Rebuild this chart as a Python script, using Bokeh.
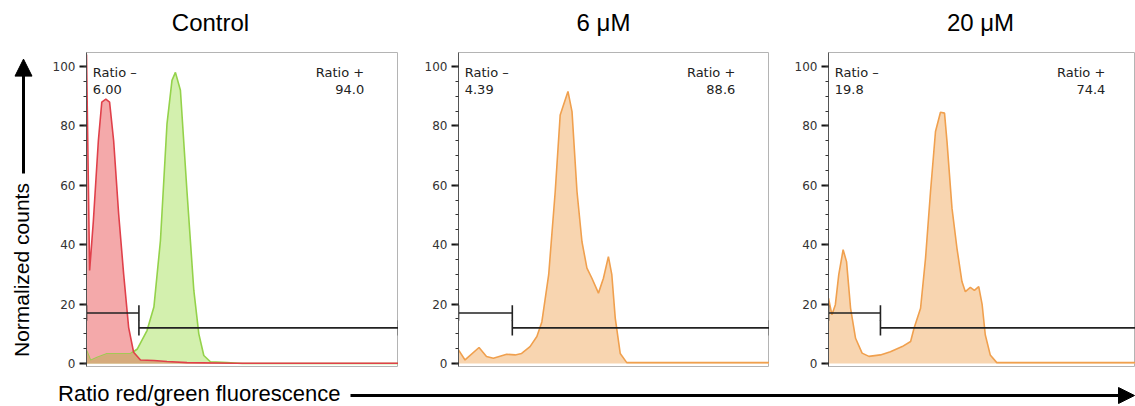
import numpy as np
from bokeh.plotting import figure
from bokeh.layouts import row, column
from bokeh.models import Range1d, SingleIntervalTicker, Arrow, NormalHead
from bokeh.core.properties import value
from bokeh.embed import file_html
from bokeh.resources import INLINE

# ---------------- data ----------------
titles = ["Control", "6 \u03bcM", "20 \u03bcM"]
ratio_neg = ["6.00", "4.39", "19.8"]
ratio_pos = ["94.0", "88.6", "74.4"]
gate_split = [16.8, 17.3, 16.7]
y_ticks_interval = 20

ctrl_red_x = [0, 1.0, 2.2, 3.8, 4.9, 6.2, 7.4, 8.7, 10.3, 11.9, 13.5, 15.1, 17.3, 21.6, 25.8, 32.2, 47.2, 100]
ctrl_red_y = [104, 31.3, 48, 75, 88, 89, 88, 75, 50.4, 30.2, 12.2, 3.8, 1.2, 1.0, 0.7, 0.3, 0.1, 0.1]

ctrl_green_x = [0, 1.3, 3.4, 6.6, 14.1, 16.3, 19.4, 21.6, 23.7, 25.8, 27.4, 28.5, 30.1, 32.2, 34.4, 36.0, 37.6, 39.7, 45, 50, 100]
ctrl_green_y = [4.4, 1.0, 2.0, 3.3, 3.3, 4.9, 11.1, 19, 41.4, 80.7, 95.3, 98, 92, 58, 24.6, 10, 2.7, 0.6, 0.3, 0, 0]

uM6_x = [0, 2.1, 6.6, 9.0, 11.2, 15.5, 18.2, 20.3, 23.0, 25.2, 26.8, 29.0, 31.1, 32.7, 33.6, 35.2, 36.5,
         38.1, 39.7, 41.3, 42.9, 45.0, 46.6, 48.2, 49.3, 50.4, 52.0, 54.1, 100]
uM6_y = [4.6, 1.2, 5.4, 2.4, 1.8, 3.1, 2.9, 3.4, 5.7, 9.1, 14, 29.9, 57.9, 83.7, 86.5, 91.6, 84.8,
         57.9, 41, 32.1, 28.7, 23.7, 28.7, 36, 29.9, 15.3, 3.4, 0.3, 0.3]

uM20_x = [0, 1.1, 2.2, 3.3, 4.7, 5.8, 7.1, 8.7, 10.8, 13.0, 16.7, 19.9, 23.7, 26.4, 27.5, 29.6, 31.2,
          32.8, 34.4, 36.0, 37.3, 38.1, 39.7, 41.3, 42.9, 44.0, 45.6, 46.9, 48.3, 49.4, 50.4, 52.0, 54.1, 100]
uM20_y = [22, 16.4, 19.8, 29.9, 38.3, 34.3, 18.6, 8.5, 3.5, 2.4, 2.9, 4.0, 5.7, 7.4, 11.9, 18.6, 35.5,
          57.9, 78.1, 84.6, 84.3, 74.7, 52.3, 38.8, 27.6, 24.2, 25.6, 24.6, 25.9, 19.8, 9.7, 2.9, 0.3, 0.3]

# ---------------- styles ----------------
RED_FILL, RED_LINE = "#f4a9aa", "#e0404a"
GREEN_FILL, GREEN_LINE = "#d3f0ae", "#94d24a"
OVERLAP_FILL = "#d6ab7c"
ORANGE_FILL, ORANGE_LINE = "#f8d5b0", "#f0a04e"
TXT_FONT = value("DejaVu Sans")
ARIAL = value("Liberation Sans")

Y0, Y1 = -1, 104.7
ROW_H = 332


def make_panel(width, border_left, xmax, idx):
    p = figure(width=width, height=ROW_H, x_range=Range1d(0, xmax), y_range=Range1d(Y0, Y1),
               output_backend="svg", toolbar_location=None, x_axis_location=None,
               min_border_left=border_left, min_border_right=0, min_border_top=8,
               min_border_bottom=10, title=None)
    p.grid.visible = False
    p.outline_line_color = "#b4b4b4"
    p.outline_line_width = 1
    ax = p.yaxis[0]
    ax.ticker = SingleIntervalTicker(interval=y_ticks_interval, num_minor_ticks=4)
    ax.major_tick_out = 7
    ax.major_tick_in = 0
    ax.minor_tick_out = 3
    ax.minor_tick_in = 0
    ax.major_tick_line_width = 2
    ax.major_tick_line_color = "#111111"
    ax.minor_tick_line_color = "#333333"
    ax.minor_tick_line_width = 1.2
    ax.axis_line_color = "#555555"
    ax.major_label_text_font = "DejaVu Sans"
    ax.major_label_text_font_size = "12px"
    ax.major_label_text_color = "#333333"
    ax.major_label_standoff = 4
    p.background_fill_color = "white"
    p.border_fill_color = "white"
    return p


def add_gates(p, idx):
    g = gate_split[idx]
    cap = 2.6
    p.segment(x0=[0, g], y0=[17, 12], x1=[g, 100], y1=[17, 12], line_color="#222222", line_width=1.6)
    p.segment(x0=[0, g, g, 100], y0=[17 - cap, 17 - cap, 12 - cap, 12 - cap],
              x1=[0, g, g, 100], y1=[17 + cap, 17 + cap, 12 + cap, 12 + cap],
              line_color="#222222", line_width=1.6)
    p.text(x=[2, 2], y=[98, 92.3], text=["Ratio \u2013", ratio_neg[idx]], text_font=TXT_FONT,
           text_font_size="13px", text_color="#222222", text_align="left", text_baseline="middle")
    p.text(x=[89, 89], y=[98, 92.3], text=["Ratio +", ratio_pos[idx]], text_font=TXT_FONT,
           text_font_size="13px", text_color="#222222", text_align="right", text_baseline="middle")


# Panel 1 (Control)
p1 = make_panel(358, 46, 100, 0)
p1.varea(x=ctrl_red_x, y1=0, y2=ctrl_red_y, fill_color=RED_FILL)
p1.varea(x=ctrl_green_x, y1=0, y2=ctrl_green_y, fill_color=GREEN_FILL)
p1.line(ctrl_green_x, ctrl_green_y, line_color=GREEN_LINE, line_width=1.6)
grid_x = np.union1d(ctrl_red_x, ctrl_green_x)
overlap_y = np.minimum(np.interp(grid_x, ctrl_red_x, ctrl_red_y), np.interp(grid_x, ctrl_green_x, ctrl_green_y))
p1.varea(x=grid_x, y1=0, y2=overlap_y, fill_color=OVERLAP_FILL)
p1.line(ctrl_red_x, ctrl_red_y, line_color=RED_LINE, line_width=1.6)
add_gates(p1, 0)

# Panel 2 (6 uM)
p2 = make_panel(371, 60, 100, 1)
p2.varea(x=uM6_x, y1=0, y2=uM6_y, fill_color=ORANGE_FILL)
p2.line(uM6_x, uM6_y, line_color=ORANGE_LINE, line_width=1.6)
add_gates(p2, 1)

# Panel 3 (20 uM)
p3 = make_panel(366, 59, 98.7, 2)
p3.varea(x=uM20_x, y1=0, y2=uM20_y, fill_color=ORANGE_FILL)
p3.line(uM20_x, uM20_y, line_color=ORANGE_LINE, line_width=1.6)
add_gates(p3, 2)


def strip(width, height, xr, yr):
    s = figure(width=width, height=height, x_range=Range1d(*xr), y_range=Range1d(*yr),
               output_backend="svg", toolbar_location=None, x_axis_location=None,
               y_axis_location=None, min_border=0, min_border_left=0, min_border_right=0,
               min_border_top=0, min_border_bottom=0, title=None)
    s.grid.visible = False
    s.outline_line_color = None
    return s


# top strip with panel titles (page pixel coordinates)
top = strip(1135, 44, (0, 1135), (44, 0))
top.text(x=[210, 603, 980], y=[22, 22, 22], text=titles, text_font=ARIAL, text_font_size="24px",
         text_color="black", text_align="center", text_baseline="middle")

# left strip with y label + arrow
left = strip(40, ROW_H, (0, 40), (376, 44))
left.text(x=[21], y=[274], text=["Normalized counts"], angle=np.pi / 2, text_font=ARIAL,
          text_font_size="21px", text_color="black", text_align="center", text_baseline="middle")
left.add_layout(Arrow(end=NormalHead(size=17, fill_color="black", line_color="black"),
                      x_start=23, y_start=172, x_end=23, y_end=51, line_width=3, line_color="black"))

# bottom strip with x label + arrow
bottom = strip(1135, 30, (0, 1135), (406, 376))
bottom.text(x=[340], y=[393], text=["Ratio red/green fluorescence"], text_font=ARIAL,
            text_font_size="22px", text_color="black", text_align="right", text_baseline="middle")
bottom.add_layout(Arrow(end=NormalHead(size=16, fill_color="black", line_color="black"),
                        x_start=350, y_start=395, x_end=1134, y_end=395, line_width=3, line_color="black"))

layout = column(top, row(left, p1, p2, p3), bottom)
open("out.html", "w").write(file_html(layout, INLINE))
